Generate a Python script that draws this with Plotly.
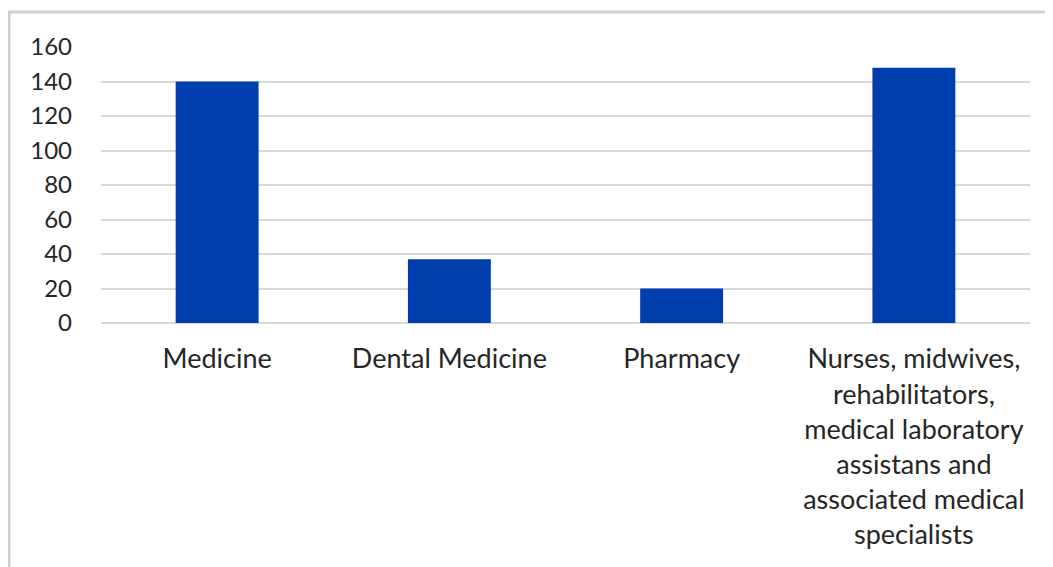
import plotly.graph_objects as go

categories = [
    "Medicine",
    "Dental Medicine",
    "Pharmacy",
    "Nurses, midwives,<br>rehabilitators,<br>medical laboratory<br>assistans and<br>associated medical<br>specialists",
]
values = [140, 37, 20, 148]
y_ticks = [0, 20, 40, 60, 80, 100, 120, 140, 160]

# page has an 8px body margin, so figure coordinates are offset by 8px
W, H = 1045, 559
L, R, T, B = 93, 23, 39, 244

fig = go.Figure(go.Bar(x=categories, y=values, marker=dict(color="#003DAD", line=dict(width=0))))

pw = W - L - R
ph = H - T - B
# outer light-grey frame
fig.add_shape(type="rect", xref="paper", yref="paper",
              x0=(1 - L) / pw, x1=(1070 - L) / pw,
              y0=(H - 590 - B) / ph, y1=(H - 4 - B) / ph,
              line=dict(color="#D0D0D0", width=3), fillcolor="rgba(0,0,0,0)", layer="below")

font = "Lato, Open Sans, sans-serif"
fig.update_layout(
    width=W, height=H,
    margin=dict(l=L, r=R, t=T, b=B),
    paper_bgcolor="white", plot_bgcolor="white",
    bargap=0.643,
    showlegend=False,
    font=dict(family=font, size=24, color="#262626"),
    xaxis=dict(showgrid=False, showline=False, zeroline=False,
               ticks="outside", ticklen=12, tickcolor="rgba(0,0,0,0)",
               tickfont=dict(size=27, family=font, color="#262626")),
    yaxis=dict(range=[0, 160], tickvals=y_ticks, showgrid=True, gridcolor="#D9D9D9", gridwidth=2,
               zeroline=True, zerolinecolor="#D9D9D9", zerolinewidth=2, showline=False,
               ticklabelstandoff=28,
               tickfont=dict(size=24, family=font, color="#262626")),
)

fig.write_html("out.html")
